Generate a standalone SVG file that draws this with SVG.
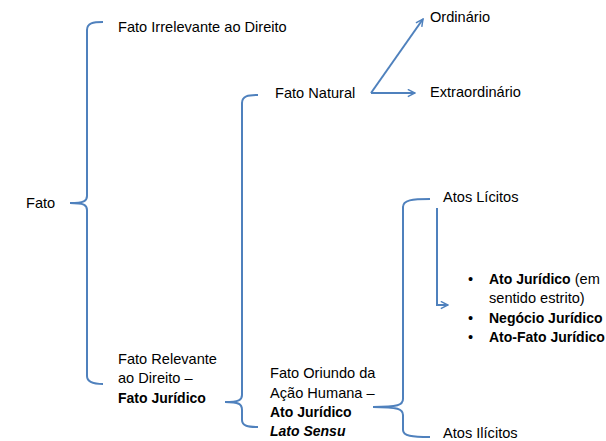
<svg xmlns="http://www.w3.org/2000/svg" width="606" height="441" viewBox="0 0 606 441">
<defs>
<style>
.t{font-family:"Liberation Sans",Arial,sans-serif;font-size:14.6px;fill:#000}
.b{font-weight:bold;font-size:14px}
.bi{font-weight:bold;font-style:italic;font-size:14px}
.ln{fill:none;stroke:#4F81BD;stroke-width:2}
</style>
<marker id="ah" viewBox="0 0 10 10" refX="9" refY="5" markerWidth="9" markerHeight="9" markerUnits="userSpaceOnUse" orient="auto">
<path d="M1,1 L9,5 L1,9" fill="none" stroke="#4F81BD" stroke-width="1.6"/>
</marker>
</defs>
<rect width="606" height="441" fill="#fff"/>
<g id="connectors">
<path class="ln" d="M103,22 C93,22 87,23 87,30 V196 C87,201 84,203 70,203 C84,203 87,205 87,210 V376 C87,382 93,384 103,384"/>
<path class="ln" d="M258,95 C248,95 242,96 242,103 V395 C242,400 239,402 225,402 C239,402 242,404 242,410 V420 C242,426 248,427 258,427"/>
<path class="ln" d="M430,199 C412,199 403,200 403,207 V399 C403,405 398,407 373,407 C398,407 403,409 403,415 V430 C403,436 412,437 430,437"/>
<path class="ln" d="M371,93 L423,19" marker-end="url(#ah)"/>
<path class="ln" d="M371,93 L415,93" marker-end="url(#ah)"/>
<path class="ln" d="M437,208 V305 H448" marker-end="url(#ah)"/>
</g>
<g id="fato"><text class="t" x="26" y="208">Fato</text></g>
<g id="irrelevante"><text class="t" x="118" y="32">Fato Irrelevante ao Direito</text></g>
<g id="relevante"><text class="t" x="118" y="364">Fato Relevante</text><text class="t" x="118" y="383">ao Direito –</text><text class="t b" x="118" y="403">Fato Jurídico</text></g>
<g id="natural"><text class="t" x="275" y="98">Fato Natural</text></g>
<g id="ordinario"><text class="t" x="430" y="22">Ordinário</text></g>
<g id="extraordinario"><text class="t" x="430" y="97">Extraordinário</text></g>
<g id="humana"><text class="t" x="270" y="378">Fato Oriundo da</text><text class="t" x="270" y="398">Ação Humana –</text><text class="t b" x="270" y="417">Ato Jurídico</text><text class="t bi" x="270" y="436">Lato Sensu</text></g>
<g id="licitos"><text class="t" x="443" y="202">Atos Lícitos</text></g>
<g id="ilicitos"><text class="t" x="443" y="438">Atos Ilícitos</text></g>
<g id="lista">
<text class="t" x="468" y="284">•</text><text class="t" x="489" y="284"><tspan class="b">Ato Jurídico</tspan> (em</text>
<text class="t" x="489" y="303">sentido estrito)</text>
<text class="t" x="468" y="323">•</text><text class="t b" x="489" y="323">Negócio Jurídico</text>
<text class="t" x="468" y="342">•</text><text class="t b" x="489" y="342">Ato-Fato Jurídico</text>
</g>
</svg>
